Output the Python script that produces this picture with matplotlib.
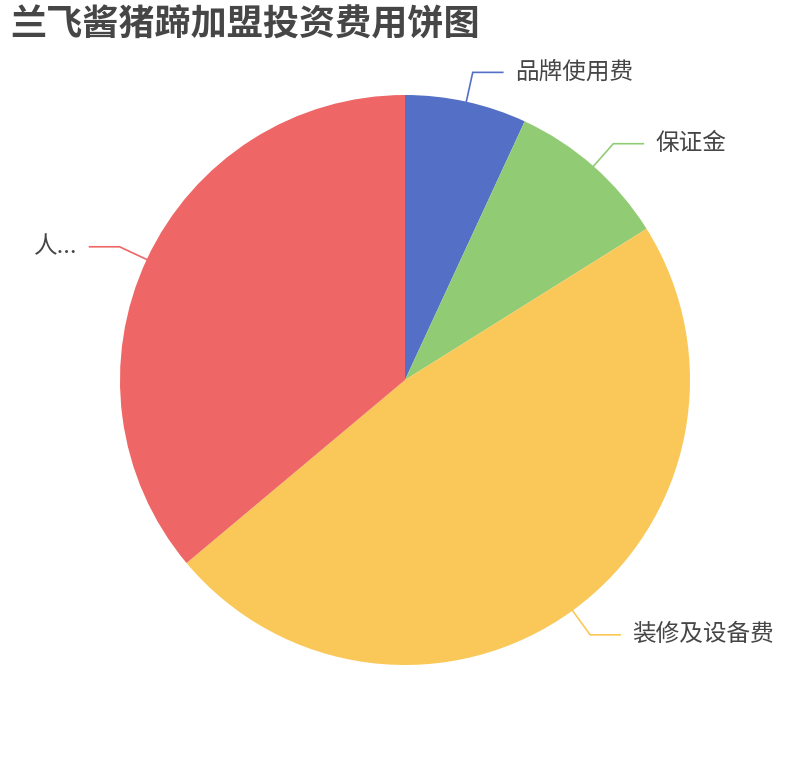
import numpy as np
import matplotlib
matplotlib.use("Agg")
import matplotlib.pyplot as plt

plt.rcParams['font.family'] = ['Noto Sans CJK SC', 'DejaVu Sans']

labels = ['品牌使用费', '保证金', '装修及设备费', '人...']
values = [6.9, 9.2, 47.8, 36.1]
colors = ['#5470c6', '#91cc75', '#fac858', '#ee6666']
title = '兰飞酱猪蹄加盟投资费用饼图'

W, H = 810, 760
cx, cy, r = 405, 380, 285

fig = plt.figure(figsize=(W / 100, H / 100), dpi=100)
ax = fig.add_axes([0, 0, 1, 1])

wedges, _ = ax.pie(values, colors=colors, startangle=90, counterclock=False,
                   center=(cx, H - cy), radius=r,
                   wedgeprops=dict(linewidth=0))

len1, len2, gap = 30, 30, 12
for w, lab, col in zip(wedges, labels, colors):
    ang = np.deg2rad((w.theta1 + w.theta2) / 2)
    dx, dy = np.cos(ang), np.sin(ang)
    x0, y0 = cx + r * dx, (H - cy) + r * dy
    x1, y1 = x0 + len1 * dx, y0 + len1 * dy
    side = 1 if dx >= 0 else -1
    x2 = x1 + side * len2
    ax.plot([x0, x1, x2], [y0, y1, y1], color=col, lw=1.2, solid_joinstyle='miter')
    ax.text(x2 + side * gap, y1, lab, fontsize=17, color='#464646',
            ha='left' if side > 0 else 'right', va='center')

ax.set_xlim(0, W)
ax.set_ylim(0, H)
ax.set_aspect('equal')
ax.axis('off')

fig.text(10 / W, 1 - 25 / H, title, fontsize=26, fontweight='bold',
         color='#464646', ha='left', va='center')

fig.savefig('out.png', dpi=100)
